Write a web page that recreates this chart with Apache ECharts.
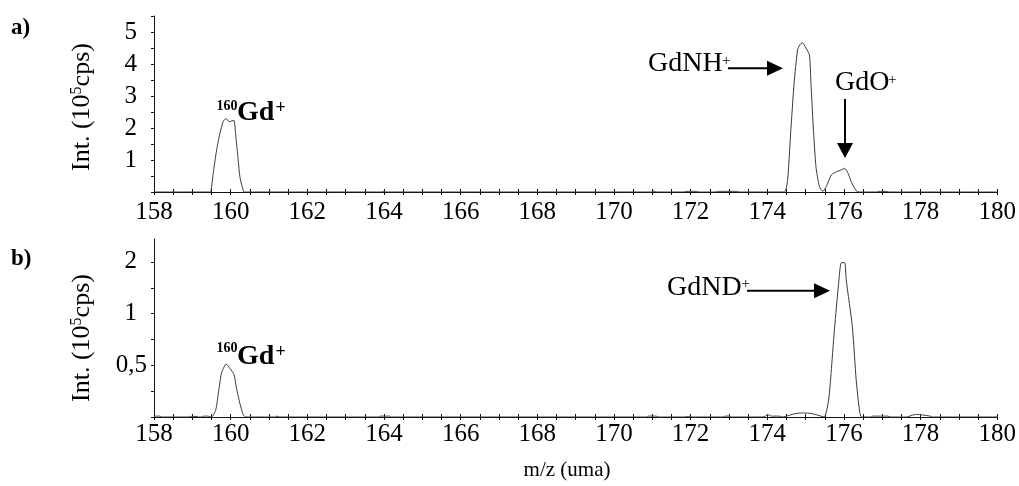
<!DOCTYPE html>
<html><head><meta charset="utf-8">
<script src="https://cdn.jsdelivr.net/npm/echarts@6/dist/echarts.min.js"></script>
<style>html,body{margin:0;padding:0;background:#fff}#c{width:1019px;height:486px}</style>
</head><body><div id="c"></div>
<script>
// ---- data ----
const mzA  = [158, 159.45, 159.484, 159.545, 159.633, 159.719, 159.805, 159.875, 159.961, 160.083, 160.127, 160.18, 160.24, 160.30, 160.35, 160.42,
              163.95, 164.0, 164.05, 170.98, 171.05, 171.12, 171.82, 171.9, 172.15, 172.22, 172.64, 172.7, 173.2, 173.27,
              174.44, 174.53, 174.61, 174.70, 174.79, 174.85, 174.92, 175.01, 175.10, 175.14, 175.20, 175.27, 175.36, 175.45,
              175.54, 175.67, 175.80, 175.93, 176.02, 176.11, 176.19, 176.32, 176.41, 176.85, 176.9, 177.12, 177.17, 180];
const intA = [0, 0, 0.01, 0.58, 1.31, 1.83, 2.2, 2.3, 2.2, 2.24, 1.83, 1.21, 0.48, 0.17, 0.0, 0,
              0, 0.03, 0, 0, 0.03, 0, 0, 0.02, 0.02, 0, 0, 0.02, 0.02, 0,
              0, 0.37, 1.84, 3.4, 4.44, 4.6, 4.67, 4.5, 4.28, 3.4, 2.03, 0.79, 0.17, 0.02,
              0.17, 0.53, 0.63, 0.69, 0.74, 0.58, 0.32, 0.04, 0, 0, 0.02, 0.02, 0, 0];

const mzB  = [158, 158.05, 158.15, 158.2, 158.9, 158.95, 159.1, 159.15, 159.25, 159.3, 159.4,
              159.5, 159.61, 159.68, 159.76, 159.83, 159.875, 159.98, 160.09, 160.15, 160.24, 160.33, 160.39,
              161.15, 161.2, 161.27, 163.85, 163.9, 164.15, 164.2, 170.85, 170.9, 171.1, 171.15,
              171.85, 171.9, 172.0, 172.05, 172.85, 172.9, 173.0, 173.05, 173.85, 173.95, 174.02, 174.1, 174.3, 174.4,
              174.55, 174.75, 174.95, 175.15, 175.35, 175.49,
              175.61, 175.75, 175.87, 175.93, 176.02, 176.06, 176.22, 176.32, 176.41, 176.46,
              176.7, 176.75, 177.15, 177.2, 177.65, 177.75, 177.9, 178.05, 178.25, 178.3, 180];
const intB = [0.25, 0.253, 0.253, 0.25, 0.25, 0.252, 0.252, 0.25, 0.25, 0.253, 0.253,
              0.25, 0.274, 0.345, 0.452, 0.49, 0.509, 0.48, 0.44, 0.37, 0.30, 0.257, 0.25,
              0.25, 0.253, 0.25, 0.25, 0.253, 0.253, 0.25, 0.25, 0.253, 0.253, 0.25,
              0.25, 0.252, 0.252, 0.25, 0.25, 0.253, 0.253, 0.25, 0.25, 0.253, 0.258, 0.253, 0.253, 0.25,
              0.255, 0.262, 0.264, 0.262, 0.255, 0.25,
              0.327, 0.80, 1.57, 1.98, 1.98, 1.57, 0.84, 0.41, 0.268, 0.25,
              0.25, 0.253, 0.253, 0.25, 0.25, 0.255, 0.259, 0.257, 0.253, 0.25, 0.25];

const xMin = 158, xMax = 180, xStep = 2;
const yLabelValsA = [1, 2, 3, 4, 5];
const yMaxA = 5.5, yStepA = 0.5;
const yTickValsB  = [0.25, 0.354, 0.5, 0.707, 1, 1.414, 2];
const yLabelValsB = [0.5, 1, 2];
const yMinB = 0.25, yMaxB = 2.72;

// ---- chart ----
const FF = "'Liberation Serif','Times New Roman',serif";
const INK = '#111';
const TICK_FS = 25;
const chart = echarts.init(document.getElementById('c'), null, {renderer: 'canvas'});

function xAxisPair(gi, margin) {
  const base = {
    gridIndex: gi, type: 'value', min: xMin, max: xMax, interval: xStep, position: 'bottom',
    splitLine: {show: false}
  };
  return [
    Object.assign({}, base, {
      axisLine: {show: true, lineStyle: {color: INK, width: 1}},
      axisTick: {show: true, inside: false, length: 3, lineStyle: {color: INK}},
      minorTick: {show: true, splitNumber: 4, length: 3, lineStyle: {color: INK}},
      axisLabel: {show: true, margin: margin, color: '#000', fontFamily: FF, fontSize: TICK_FS}
    }),
    Object.assign({}, base, {
      axisLine: {show: false},
      axisTick: {show: true, inside: true, length: 3, lineStyle: {color: INK}},
      minorTick: {show: true, splitNumber: 4, length: 3, lineStyle: {color: INK}},
      axisLabel: {show: false}
    })
  ];
}

const xs = xAxisPair(0, 8).concat(xAxisPair(1, 5));

const option = {
  backgroundColor: '#fff',
  animation: false,
  grid: [
    {left: 154, right: 20, top: 16, height: 176},
    {left: 154, right: 20, top: 239, height: 178}
  ],
  xAxis: xs,
  yAxis: [
    {
      gridIndex: 0, type: 'value', min: 0, max: yMaxA, interval: yStepA,
      splitLine: {show: false},
      axisLine: {show: true, lineStyle: {color: INK}},
      axisTick: {show: true, length: 3, lineStyle: {color: INK}},
      axisLabel: {show: true, customValues: yLabelValsA, margin: 17, color: '#000', fontFamily: FF, fontSize: TICK_FS}
    },
    {
      gridIndex: 1, type: 'log', logBase: 2, min: yMinB, max: yMaxB,
      splitLine: {show: false},
      axisLine: {show: true, lineStyle: {color: INK}},
      axisTick: {show: true, length: 3, customValues: yTickValsB, lineStyle: {color: INK}},
      axisLabel: {
        show: true, customValues: yLabelValsB, margin: 7, color: '#000', fontFamily: FF, fontSize: TICK_FS,
        formatter: function (v) {
          const s = String(v).replace('.', ',');
          return Number.isInteger(v) ? '{n|' + s + '}' : '{w|' + s + '}';
        },
        rich: {
          n: {fontFamily: FF, fontSize: TICK_FS, color: '#000', padding: [0, 10, 0, 0]},
          w: {fontFamily: FF, fontSize: TICK_FS, color: '#000'}
        }
      }
    }
  ],
  series: [
    {
      type: 'line', xAxisIndex: 0, yAxisIndex: 0, showSymbol: false, symbol: 'none',
      lineStyle: {color: '#3a3a3a', width: 1}, smooth: 0.2,
      data: mzA.map((m, i) => [m, intA[i]])
    },
    {
      type: 'line', xAxisIndex: 2, yAxisIndex: 1, showSymbol: false, symbol: 'none',
      lineStyle: {color: '#3a3a3a', width: 1}, smooth: 0.2,
      data: mzB.map((m, i) => [m, intB[i]])
    }
  ],
  graphic: []
};

function txt(x, y, s, size, opts) {
  opts = opts || {};
  return {
    type: 'text', x: x, y: y, rotation: opts.rot || 0, silent: true,
    style: {
      text: s, fill: '#000',
      font: (opts.bold ? 'bold ' : '') + size + 'px ' + FF,
      textAlign: opts.align || 'left', textVerticalAlign: 'middle',
      rich: opts.rich
    }
  };
}
function arrowH(x1, x2, y) {
  return [
    {type: 'line', silent: true, shape: {x1: x1, y1: y, x2: x2 - 14, y2: y}, style: {stroke: '#000', lineWidth: 2}},
    {type: 'polygon', silent: true, shape: {points: [[x2 - 16, y - 7.5], [x2, y], [x2 - 16, y + 7.5]]}, style: {fill: '#000'}}
  ];
}
function arrowV(x, y1, y2) {
  return [
    {type: 'line', silent: true, shape: {x1: x, y1: y1, x2: x, y2: y2 - 14}, style: {stroke: '#000', lineWidth: 2}},
    {type: 'polygon', silent: true, shape: {points: [[x - 8, y2 - 15], [x, y2], [x + 8, y2 - 15]]}, style: {fill: '#000'}}
  ];
}

const yNameRich = {s: {font: '16px ' + FF, verticalAlign: 'top', lineHeight: 27}};
option.graphic = [
  txt(11, 28, 'a)', 23, {bold: true}),
  txt(11, 259, 'b)', 23, {bold: true}),
  txt(82, 107, 'Int. (10{s|5}cps)', 26, {rot: Math.PI / 2, align: 'center', rich: yNameRich}),
  txt(82, 338, 'Int. (10{s|5}cps)', 26, {rot: Math.PI / 2, align: 'center', rich: yNameRich}),
  // 160Gd+ (a)
  txt(216.5, 106, '160', 14, {bold: true}),
  txt(237, 112.3, 'Gd', 28, {bold: true}),
  txt(275.5, 108, '+', 18, {bold: true}),
  // 160Gd+ (b)
  txt(216.5, 348, '160', 14, {bold: true}),
  txt(237, 356.3, 'Gd', 28, {bold: true}),
  txt(275.5, 352, '+', 18, {bold: true}),
  // GdNH+
  txt(648, 64, 'GdNH', 28),
  txt(722, 61, '+', 15),
  // GdO+
  txt(835, 82.2, 'GdO', 28),
  txt(888, 80, '+', 15),
  // GdND+
  txt(667, 287.2, 'GdND', 28),
  txt(741.5, 284, '+', 15),
  // x axis name
  txt(567, 470, 'm/z (uma)', 21, {align: 'center'})
].concat(arrowH(728, 783, 68.3), arrowV(845, 99, 158), arrowH(747, 830, 290.7));

chart.setOption(option);
</script>
</body></html>
